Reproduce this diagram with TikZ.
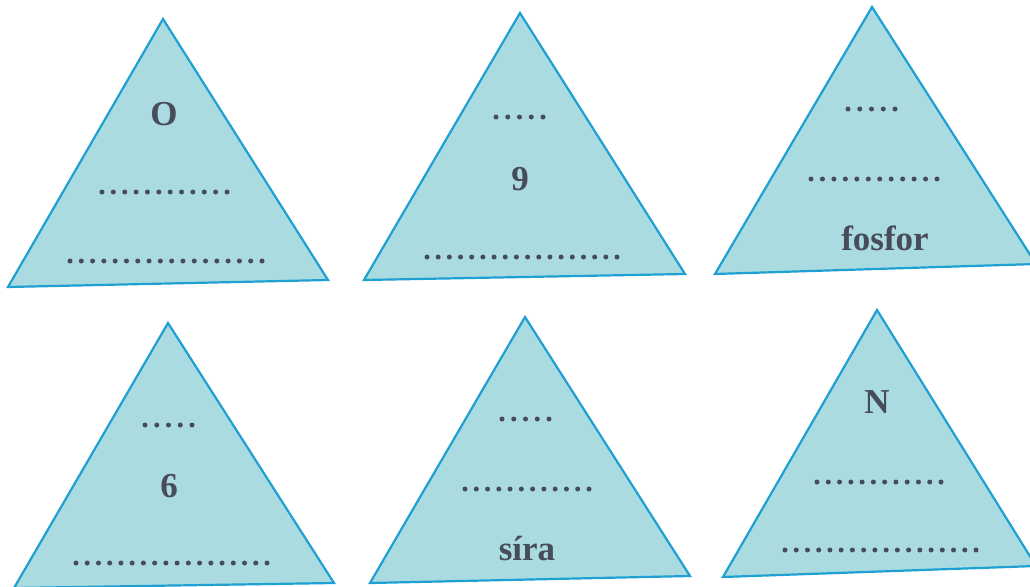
\documentclass[tikz,border=0pt]{standalone}
\usepackage{fontspec}
\setmainfont{Liberation Serif}
\definecolor{triblue}{RGB}{30,160,210}
\definecolor{trifill}{RGB}{170,219,225}
\definecolor{txtgray}{RGB}{70,76,88}
\newcommand\blankrow[4]{% x1 x2 y n
  \foreach \i in {1,...,#4}{%
    \pgfmathsetmacro\xx{#1+(\i-1)*(#2-#1)/(#4-1)}%
    \fill[txtgray] (\xx,#3) circle[radius=2.5];
  }%
}
\begin{document}
\begin{tikzpicture}[x=1pt,y=-1pt,
  tri/.style={draw=triblue, fill=trifill, line width=2.2pt, line join=miter},
  lbl/.style={text=txtgray, font=\fontsize{35}{40}\selectfont\bfseries, inner sep=0pt, anchor=base}]
\useasboundingbox (0,0) rectangle (1030,586);
\clip (0,0) rectangle (1030,586);
\fill[white] (0,0) rectangle (1030,586);
% triangles
\coordinate (t1a) at (163,19);  \coordinate (t1b) at (8,287);   \coordinate (t1c) at (328,280);
\coordinate (t2a) at (520,13);  \coordinate (t2b) at (364,280); \coordinate (t2c) at (685,274);
\coordinate (t3a) at (872,7);   \coordinate (t3b) at (715,274); \coordinate (t3c) at (1036,264);
\coordinate (t4a) at (168,323); \coordinate (t4b) at (14,588);  \coordinate (t4c) at (334,583);
\coordinate (t5a) at (525,317); \coordinate (t5b) at (370,583); \coordinate (t5c) at (690,576);
\coordinate (t6a) at (877,310); \coordinate (t6b) at (723,577); \coordinate (t6c) at (1036,566);
\foreach \t in {t1,t2,t3,t4,t5,t6}{
  \draw[tri] (\t a) -- (\t b) -- (\t c) -- cycle;
}
% labels
\node[lbl] (lO) at (164,125) {O};
\node[lbl] (l9) at (520,190) {9};
\node[lbl] (lfos) at (885,250) {fosfor};
\node[lbl] (l6) at (169,497) {6};
\node[lbl] (lsira) at (527,560) {síra};
\node[lbl] (lN) at (877,413) {N};
% blanks
\blankrow{102}{227}{192}{12}
\blankrow{70}{262}{261}{18}
\blankrow{496}{543}{117}{5}
\blankrow{427}{617}{257}{18}
\blankrow{848}{895}{109}{5}
\blankrow{811}{937}{179}{12}
\blankrow{145}{192}{425}{5}
\blankrow{76}{267}{563}{18}
\blankrow{502}{549}{419}{5}
\blankrow{465}{589}{489}{12}
\blankrow{817}{941}{482}{12}
\blankrow{785}{976}{550}{18}
\end{tikzpicture}
\end{document}
